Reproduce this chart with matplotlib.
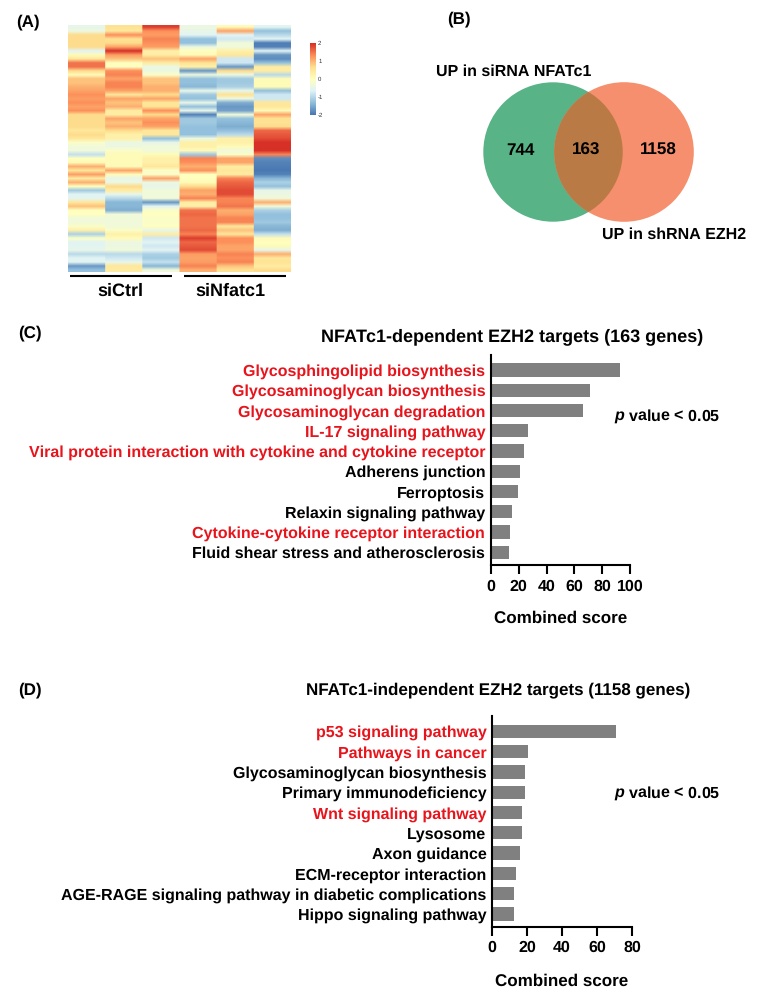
import numpy as np
import matplotlib
matplotlib.use("Agg")
import matplotlib.pyplot as plt
from matplotlib.colors import LinearSegmentedColormap
from matplotlib.patches import Circle

plt.rcParams['font.family'] = ['Liberation Sans', 'DejaVu Sans']
plt.rcParams['font.weight'] = 'bold'
plt.rcParams['mathtext.fontset'] = 'custom'
plt.rcParams['mathtext.bfit'] = 'Liberation Sans:italic:bold'
plt.rcParams['text.hinting'] = 'none'
plt.rcParams['text.hinting_factor'] = 1

W, H = 758, 998

# ---------- data ----------
si_ctrl_1 = [-0.5,-0.4,0.7,0.7,0.7,0.7,-0.6,0.1,0.5,1.5,1.5,0.7,0.1,0.9,0.9,1.05,1.15,1.3,1.2,1.3,
             1.15,1.3,0.7,0.7,0.7,0.7,0.5,0.7,0.5,-0.1,-0.3,-0.3,-0.9,0.0,0.1,1.05,0.5,1.2,0.4,1.05,0.0,
             -1.2,-0.6,-0.6,0.5,0.9,0.0,0.0,-0.3,-0.3,-0.1,0.3,-1.1,-0.1,-0.6,-0.6,-0.5,-1.0,-0.6,-0.6,-1.7,-1.3]
si_ctrl_2 = [0.6,0.5,1.3,0.6,0.7,1.15,2.0,1.2,0.9,0.0,0.0,1.3,1.4,1.15,1.4,1.4,1.15,0.5,1.15,0.9,
             1.05,0.4,0.4,1.15,0.9,1.05,0.7,0.3,0.3,-0.4,-0.4,-0.1,0.1,0.1,0.1,0.1,1.15,0.1,-0.5,-0.4,0.7,
             0.4,-0.5,-1.0,-1.4,-1.4,-1.5,-0.3,-0.3,-0.3,-0.3,-0.1,0.3,0.1,-0.4,-0.4,-0.3,-1.0,-0.8,-0.5,0.5,0.4]
si_ctrl_3 = [1.9,1.3,1.2,1.4,1.3,1.2,0.3,0.4,0.9,0.4,-0.4,-0.4,-0.1,0.9,0.9,1.05,1.05,0.7,1.15,0.5,
             0.6,1.3,0.7,1.15,1.3,1.15,0.5,0.5,-1.3,-0.5,-0.3,-0.3,0.1,0.3,0.3,0.5,-0.1,-0.1,1.15,-0.4,-0.5,
             -0.3,-0.3,-0.3,-1.7,-0.6,-0.1,0.0,-0.1,-0.1,0.0,-0.5,0.4,-0.8,-0.6,-0.8,-0.6,-1.1,-1.2,-0.9,-1.4,-0.3]
si_nfatc1_1 = [-0.4,-0.5,-0.6,-1.3,-1.3,-0.4,0.0,0.1,1.15,0.6,0.3,-1.7,-0.4,-1.3,-1.3,-1.4,-0.5,-1.2,-1.3,-0.5,
               -1.3,-0.5,-1.9,-1.2,-1.2,-1.3,-1.3,-1.3,-0.4,0.3,0.3,0.1,-1.2,1.4,1.3,1.05,1.3,0.0,0.0,0.1,0.7,
               1.15,1.05,1.4,0.4,0.3,1.5,1.6,1.5,1.5,1.5,1.6,1.4,1.9,1.6,1.7,1.8,1.2,1.15,1.2,1.4,1.05]
si_nfatc1_2 = [0.1,1.15,-0.6,-0.8,-0.3,-0.3,0.3,0.5,-0.8,-0.8,-1.7,0.7,-0.4,-1.2,-1.2,-1.1,-0.5,0.6,-0.4,-1.5,
               -1.7,-1.6,-0.3,-1.3,-1.4,-1.5,-1.3,-1.0,0.3,0.3,0.1,-0.3,-0.1,1.15,1.15,0.4,0.5,0.4,1.4,1.6,1.7,
               1.8,1.8,1.4,1.4,1.5,1.05,1.15,1.4,1.4,0.5,0.9,0.5,1.3,1.3,1.15,1.15,1.4,1.3,1.4,0.9,0.6]
si_nfatc1_3 = [-0.6,-1.3,-1.0,-0.6,-1.95,-1.9,-0.6,-1.7,-1.8,-1.3,0.4,0.4,-1.0,0.1,0.1,0.1,-1.3,-0.8,-0.8,0.5,
               0.5,0.1,1.15,0.6,0.6,0.7,1.6,1.7,1.8,2.0,2.0,2.0,1.4,-1.8,-1.9,-1.95,-2.0,-1.9,-1.4,-1.1,-1.3,
               -0.5,-0.4,-0.3,1.05,-0.3,-1.1,-1.3,-1.3,-1.2,-1.4,-1.5,-0.9,0.1,0.0,0.1,-0.5,1.05,0.5,0.6,0.4,0.7]
heat_groups = ["siCtrl", "siNfatc1"]
heat_scale_ticks = [2, 1, 0, -1, -2]

venn_left_only = "744"
venn_shared = "163"
venn_right_only = "1158"

c_terms = ["Glycosphingolipid biosynthesis", "Glycosaminoglycan biosynthesis",
           "Glycosaminoglycan degradation", "IL-17 signaling pathway",
           "Viral protein interaction with cytokine and cytokine receptor",
           "Adherens junction", "Ferroptosis", "Relaxin signaling pathway",
           "Cytokine-cytokine receptor interaction", "Fluid shear stress and atherosclerosis"]
c_scores = [92.5, 70.8, 66, 26.8, 24, 21, 19.6, 15.2, 13.6, 12.9]
c_red = [True, True, True, True, True, False, False, False, True, False]
c_ticks = [0, 20, 40, 60, 80, 100]

d_terms = ["p53 signaling pathway", "Pathways in cancer", "Glycosaminoglycan biosynthesis",
           "Primary immunodeficiency", "Wnt signaling pathway", "Lysosome", "Axon guidance",
           "ECM-receptor interaction", "AGE-RAGE signaling pathway in diabetic complications",
           "Hippo signaling pathway"]
d_scores = [71, 20.6, 19, 19, 17.3, 17, 15.8, 13.7, 12.8, 12.4]
d_red = [True, True, False, False, True, False, False, False, False, False]
d_ticks = [0, 20, 40, 60, 80]

RED = "#E8141C"
GREY = "#808080"
TERM_FS = 11.3
TICK_FS = 11.8
AXIS_FS = 12.5


def px_axes(left, top, right, bottom, **kw):
    return fig.add_axes([left / W, 1 - bottom / H, (right - left) / W, (bottom - top) / H], **kw)


fig = plt.figure(figsize=(W / 100, H / 100), dpi=100, facecolor="white")

# overlay in pixel coordinates for annotations
ov = fig.add_axes([0, 0, 1, 1])
ov.set_xlim(0, W)
ov.set_ylim(H, 0)
ov.axis("off")

# ---------- heatmap ----------
cmap = LinearSegmentedColormap.from_list(
    "rdylbu", ["#4A78B2", "#91BFDB", "#E0F3F8", "#FFFFBF", "#FEE090", "#FC8D59", "#D73027"])
matrix = np.array([si_ctrl_1, si_ctrl_2, si_ctrl_3, si_nfatc1_1, si_nfatc1_2, si_nfatc1_3]).T
axh = px_axes(68, 25, 291, 272)
# columns repeated so the smoothing only softens the row boundaries
axh.imshow(np.repeat(matrix, 40, axis=1), cmap=cmap, vmin=-2, vmax=2, aspect="auto",
           interpolation="bilinear", interpolation_stage="rgba")
axh.axis("off")

axc = px_axes(310, 43, 316, 115)
grad = np.linspace(2, -2, 100)[:, None]
axc.imshow(grad, cmap=cmap, vmin=-2, vmax=2, aspect="auto", extent=[0, 1, -2, 2])
axc.set_xticks([])
axc.yaxis.tick_right()
axc.set_yticks(heat_scale_ticks)
axc.set_yticklabels([str(t) for t in heat_scale_ticks], fontsize=4.5, weight="normal", color="#333333")
axc.tick_params(axis="y", length=0, pad=1.5)
for s in axc.spines.values():
    s.set_visible(False)

ov.plot([70, 172], [275.7, 275.7], color="black", lw=1.5, solid_capstyle="butt")
ov.plot([184, 286], [275.7, 275.7], color="black", lw=1.5, solid_capstyle="butt")
ov.text(120.5, 291, heat_groups[0], ha="center", va="center", fontsize=13.2)
ov.text(230.5, 291, heat_groups[1], ha="center", va="center", fontsize=13.2)

# ---------- venn ----------
GREEN = "#58B386"
ORANGE = "#F68F6E"
BROWN = "#B97A45"
g = Circle((553, 152), 69.7, fc=GREEN, ec="none")
o = Circle((624, 152), 69.8, fc=ORANGE, ec="none")
ov.add_patch(g)
ov.add_patch(o)
both = Circle((624, 152), 69.8, fc=BROWN, ec="none")
ov.add_patch(both)
both.set_clip_path(Circle((553, 152), 69.7, transform=ov.transData))
for x, t in [(520, venn_left_only), (586, venn_shared), (658, venn_right_only)]:
    ov.text(x, 150.5, t, ha="center", va="center", fontsize=12.4)
ov.text(436, 71.5, "UP in siRNA NFATc1", ha="left", va="center", fontsize=11.65)
ov.text(602, 235, "UP in shRNA EZH2", ha="left", va="center", fontsize=11.65)


# ---------- bar panels ----------
def bars(left, right, top, bottom, first, step, xmax, terms, scores, red, ticks, tick_len):
    ax = px_axes(left, top, right, bottom)
    ax.patch.set_alpha(0)
    ypos = np.arange(len(terms))
    ax.barh(ypos, scores, height=0.66, color=GREY)
    ax.set_xlim(0, xmax)
    ax.set_ylim((bottom - first) / step, (top - first) / step)
    ax.set_yticks(ypos)
    ax.set_yticklabels(terms, fontsize=TERM_FS)
    for lab, r in zip(ax.get_yticklabels(), red):
        lab.set_color(RED if r else "black")
    ax.tick_params(axis="y", length=0, pad=4)
    ax.set_xticks(ticks)
    ax.set_xticklabels([str(t) for t in ticks], fontsize=TICK_FS)
    ax.tick_params(axis="x", length=tick_len, width=1.5, pad=3.5)
    for s in ("top", "right"):
        ax.spines[s].set_visible(False)
    for s in ("left", "bottom"):
        ax.spines[s].set_linewidth(1.5)
    return ax


bars(490.7, 630.3, 355, 565, 370, 20.25, 100, c_terms, c_scores, c_red, c_ticks, 6.5)
bars(492, 632, 716, 926.7, 731.3, 20.3, 80, d_terms, d_scores, d_red, d_ticks, 6.5)

ov.text(512, 337, "NFATc1-dependent EZH2 targets (163 genes)", ha="center", va="center", fontsize=13.2)
ov.text(498, 690, "NFATc1-independent EZH2 targets (1158 genes)", ha="center", va="center", fontsize=12.5)
ov.text(561, 618, "Combined score", ha="center", va="center", fontsize=AXIS_FS)
ov.text(562, 981, "Combined score", ha="center", va="center", fontsize=AXIS_FS)
ov.text(614, 417, r"$\bfit{p}$ value < 0.05", ha="left", va="center", fontsize=11.4)
ov.text(614, 794, r"$\bfit{p}$ value < 0.05", ha="left", va="center", fontsize=11.4)

for x, y, t in [(16, 22, "(A)"), (447, 19, "(B)"), (18, 333, "(C)"), (18, 690, "(D)")]:
    ov.text(x, y, t, ha="left", va="center", fontsize=12.6)

fig.savefig("out.png", dpi=100)
